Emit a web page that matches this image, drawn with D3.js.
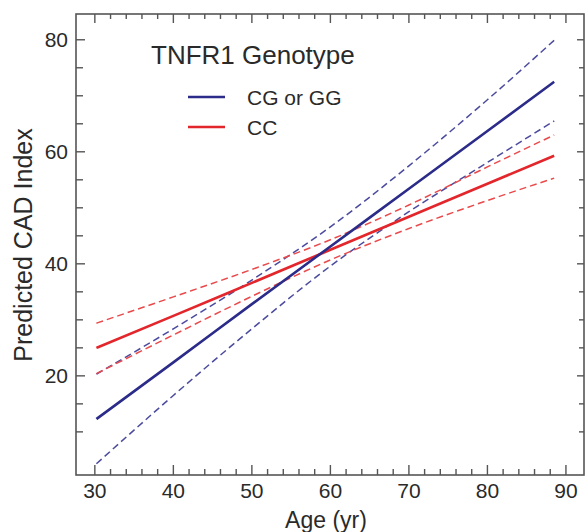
<!DOCTYPE html>
<html>
<head>
<meta charset="utf-8">
<script src="https://cdn.jsdelivr.net/npm/d3@7"></script>
<style>
    html, body { margin: 0; padding: 0; background: #fff; }
    #chart { width: 585px; height: 532px; }
    text { font-family: Arial, "Liberation Sans", Helvetica, sans-serif; fill: #2a2a2a; }
</style>
</head>
<body>
<div id="chart"></div>
<script>
    // Data
    const ages = [30.2, 40, 50, 60, 70, 80, 88.5];
    const blueFit = [12.3, 22.4, 32.8, 43.1, 53.4, 63.7, 72.5];
    const blueUpper = [20.3, 28.4, 37.1, 46.6, 57.5, 69.3, 79.9];
    const blueLower = [4.3, 16.5, 28.4, 39.6, 49.3, 58.1, 65.5];
    const redFit = [25.0, 30.7, 36.6, 42.5, 48.4, 54.3, 59.3];
    const redUpper = [29.4, 34.1, 39.0, 44.3, 50.5, 57.3, 63.0];
    const redLower = [20.4, 27.3, 34.2, 40.7, 46.3, 51.3, 55.3];

    const xMajorTicks = [30, 40, 50, 60, 70, 80, 90];
    const yMajorTicks = [20, 40, 60, 80];
    const legendLabels = ['CG or GG', 'CC'];

    // Constants
    const width = 585;
    const height = 532;
    const frame = { left: 76, right: 584, top: 14, bottom: 475 };
    const blue = '#2b2b8a';
    const blueDash = '#4b4b9e';
    const red = '#e3262b';
    const redDash = '#e94a4c';
    const axisColor = '#555';

    const svg = d3.select('#chart')
        .append('svg')
        .attr('width', width)
        .attr('height', height);

    // Scales
    const x = d3.scaleLinear().domain([27.6, 92.3]).range([frame.left, frame.right]);
    const y = d3.scaleLinear().domain([2.3, 84.6]).range([frame.bottom, frame.top]);

    // Lines
    const line = d3.line()
        .x(d => x(d[0]))
        .y(d => y(d[1]))
        .curve(d3.curveMonotoneX);

    const series = [
        { values: blueUpper, color: blueDash, dash: '7,4', w: 1.5 },
        { values: blueLower, color: blueDash, dash: '7,4', w: 1.5 },
        { values: redUpper, color: redDash, dash: '7,4', w: 1.5 },
        { values: redLower, color: redDash, dash: '7,4', w: 1.5 },
        { values: redFit, color: red, dash: null, w: 2.6 },
        { values: blueFit, color: blue, dash: null, w: 2.6 }
    ];

    svg.append('g')
        .selectAll('path')
        .data(series)
        .enter()
        .append('path')
        .attr('d', s => line(ages.map((a, i) => [a, s.values[i]])))
        .attr('fill', 'none')
        .attr('stroke', s => s.color)
        .attr('stroke-width', s => s.w)
        .attr('stroke-dasharray', s => s.dash);

    // Frame
    svg.append('rect')
        .attr('x', frame.left)
        .attr('y', frame.top)
        .attr('width', frame.right - frame.left)
        .attr('height', frame.bottom - frame.top)
        .attr('fill', 'none')
        .attr('stroke', axisColor)
        .attr('stroke-width', 1.6);

    // Ticks (all pointing inward)
    const xTicks = d3.range(30, 90.1, 2);
    const yTicks = d3.range(10, 80.1, 5);
    const ticks = svg.append('g').attr('stroke', axisColor).attr('stroke-width', 1.4);

    ticks.selectAll('.xb')
        .data(xTicks)
        .enter().append('line')
        .attr('x1', d => x(d)).attr('x2', d => x(d))
        .attr('y1', frame.bottom)
        .attr('y2', d => frame.bottom - (d % 10 === 0 ? 10 : 6));

    ticks.selectAll('.xt')
        .data(xTicks)
        .enter().append('line')
        .attr('x1', d => x(d)).attr('x2', d => x(d))
        .attr('y1', frame.top)
        .attr('y2', d => frame.top + (d % 10 === 0 ? 9 : 5));

    ticks.selectAll('.yl')
        .data(yTicks)
        .enter().append('line')
        .attr('y1', d => y(d)).attr('y2', d => y(d))
        .attr('x1', frame.left)
        .attr('x2', d => frame.left + (d % 20 === 0 ? 9 : 7));

    ticks.selectAll('.yr')
        .data(yTicks)
        .enter().append('line')
        .attr('y1', d => y(d)).attr('y2', d => y(d))
        .attr('x1', frame.right)
        .attr('x2', d => frame.right - (d % 20 === 0 ? 7 : 5));

    // Tick labels
    svg.append('g')
        .selectAll('text')
        .data(xMajorTicks)
        .enter().append('text')
        .attr('x', d => x(d))
        .attr('y', 498)
        .attr('text-anchor', 'middle')
        .attr('font-size', '21px')
        .text(d => d);

    svg.append('g')
        .selectAll('text')
        .data(yMajorTicks)
        .enter().append('text')
        .attr('x', 68)
        .attr('y', d => y(d) + 7.5)
        .attr('text-anchor', 'end')
        .attr('font-size', '21px')
        .text(d => d);

    // Axis titles
    svg.append('text')
        .attr('x', 326)
        .attr('y', 528)
        .attr('text-anchor', 'middle')
        .attr('font-size', '23px')
        .text('Age (yr)');

    svg.append('text')
        .attr('transform', 'translate(32,245) rotate(-90)')
        .attr('text-anchor', 'middle')
        .attr('font-size', '25px')
        .text('Predicted CAD Index');

    // Legend
    svg.append('text')
        .attr('x', 151)
        .attr('y', 64)
        .attr('font-size', '26px')
        .text('TNFR1 Genotype');

    const legend = svg.append('g')
        .selectAll('g')
        .data(legendLabels)
        .enter().append('g')
        .attr('transform', (d, i) => `translate(0,${97 + i * 30})`);

    legend.append('line')
        .attr('x1', 188).attr('x2', 225)
        .attr('y1', 0).attr('y2', 0)
        .attr('stroke', (d, i) => i === 0 ? blue : red)
        .attr('stroke-width', 2.6);

    legend.append('text')
        .attr('x', 247)
        .attr('y', 7.5)
        .attr('font-size', '21px')
        .text(d => d);
</script>
</body>
</html>
